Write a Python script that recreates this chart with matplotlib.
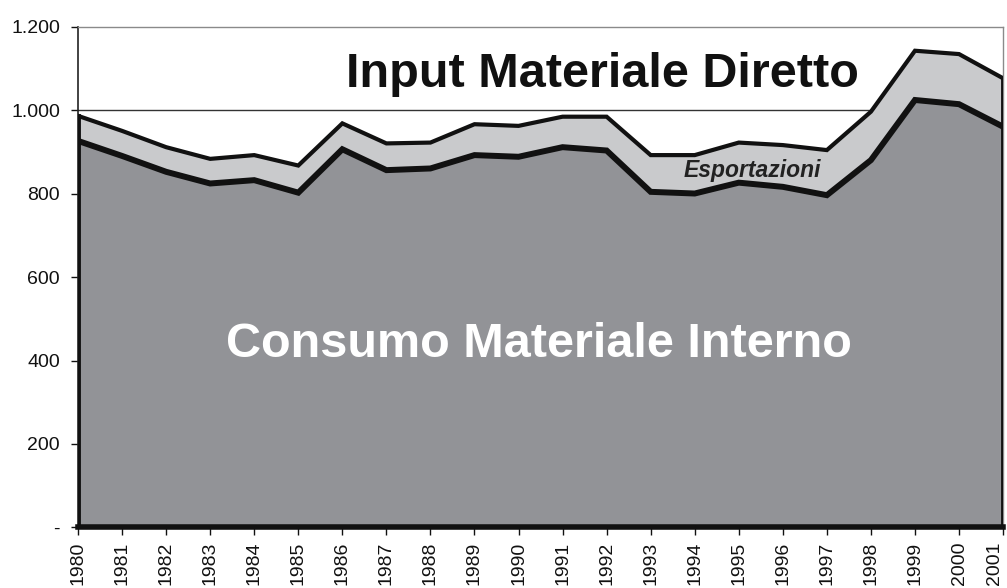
import matplotlib.pyplot as plt
from matplotlib.ticker import FuncFormatter
import numpy as np

plt.rcParams['font.family'] = ['Liberation Sans', 'DejaVu Sans']

# values (milioni di tonnellate)
years = list(range(1980, 2002))
dmi = [986, 950, 911, 883, 892, 867, 968, 920, 922, 966, 962, 984,
       984, 892, 892, 922, 916, 904, 996, 1142, 1134, 1076]
dmc = [926, 890, 852, 824, 832, 802, 906, 856, 860, 892, 888, 911,
       903, 804, 800, 826, 816, 796, 880, 1024, 1014, 960]

dark = '#929397'
light = '#c9cacc'

fig = plt.figure(figsize=(10.07, 5.88), dpi=100)
ax = fig.add_axes([0.0775, 0.1029, 0.9186, 0.852])

x = np.array(years)
ax.fill_between(x, 0, dmc, color=dark, lw=0, zorder=2)
ax.fill_between(x, dmc, dmi, color=light, lw=0, zorder=2)
ax.plot(x, dmi, color='#111111', lw=3, zorder=4, solid_joinstyle='miter')
ax.plot(x, dmc, color='#111111', lw=4.3, zorder=5, solid_joinstyle='miter')
# black edges of the area
ax.plot([x[0], x[0]], [0, dmi[0]], color='#111111', lw=3.5, zorder=5)
ax.plot([x[-1], x[-1]], [0, dmi[-1]], color='#111111', lw=3.5, zorder=5)
ax.plot([x[0], x[-1]], [0, 0], color='#111111', lw=4, zorder=5, clip_on=False)

ax.set_xlim(1980, 2001)
ax.set_ylim(0, 1200)
ax.set_yticks(range(0, 1201, 200))
ax.yaxis.set_major_formatter(FuncFormatter(
    lambda v, p: '-' if v == 0 else f'{int(v):,}'.replace(',', '.')))
ax.set_xticks(years)
ax.set_xticklabels([str(y) for y in years], rotation=90)
# last label would fall off the right edge
ax.get_xticklabels()[-1].set_horizontalalignment('right')

ax.axhline(1000, color='#333333', lw=1, zorder=1)

for s in ['top', 'right']:
    ax.spines[s].set_color('#8a8a8a')
    ax.spines[s].set_linewidth(1)
ax.spines['left'].set_color('#222222')
ax.spines['left'].set_linewidth(1.2)
ax.spines['bottom'].set_color('#222222')
ax.tick_params(axis='both', labelsize=14, colors='#111111', length=6,
               width=1, direction='out')
ax.tick_params(axis='x', pad=4)
ax.tick_params(axis='y', length=5, pad=8)

ax.text(1991.9, 1055, 'Input Materiale Diretto', ha='center', va='baseline',
        fontsize=35, fontweight='bold', color='#111111', zorder=6)
ax.text(1990.47, 409, 'Consumo Materiale Interno', ha='center', va='baseline',
        fontsize=35, fontweight='bold', color='white', zorder=6)
ax.text(1995.3, 840, 'Esportazioni', ha='center', va='baseline',
        fontsize=16.5, fontweight='bold', fontstyle='italic',
        color='#222222', zorder=6)

fig.savefig('out.png', dpi=100)
